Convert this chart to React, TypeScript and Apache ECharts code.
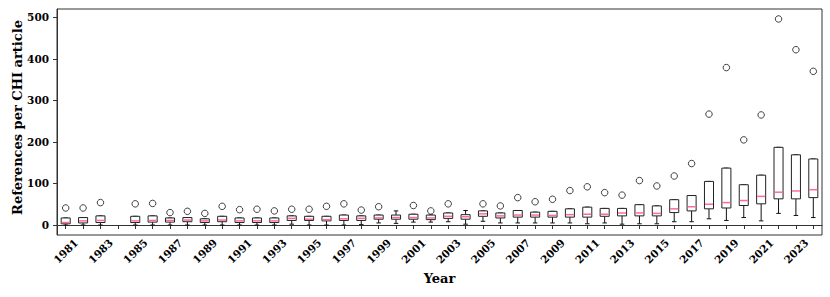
import React, { useEffect, useRef } from "react";
import * as echarts from "echarts";

const years = [
  "1981", "1982", "1983", "1984", "1985", "1986", "1987", "1988", "1989", "1990",
  "1991", "1992", "1993", "1994", "1995", "1996", "1997", "1998", "1999", "2000",
  "2001", "2002", "2003", "2004", "2005", "2006", "2007", "2008", "2009", "2010",
  "2011", "2012", "2013", "2014", "2015", "2016", "2017", "2018", "2019", "2020",
  "2021", "2022", "2023", "2024",
];
// null = no data for that year (1984)
const lows = [0, 0, 0, null, 0, 0, 0, 0, 0, 0, 0, 0, 0, 2, 0, 0, 0, 1, 5, 4, 7, 7, 8, 2, 9, 5, 5, 5, 5, 5, 3, 5, 2, 3, 3, 8, 8, 15, 11, 18, 10, 28, 23, 18];
const q1s = [3, 5, 6, null, 6, 7, 7, 8, 6, 8, 6, 6, 6, 11, 11, 10, 11, 11, 14, 14, 14, 13, 16, 14, 21, 17, 19, 19, 19, 19, 19, 21, 22, 22, 22, 30, 34, 39, 41, 47, 51, 63, 63, 66];
const medians = [6, 10, 11, null, 10, 11, 11, 12, 10, 12, 10, 10, 10, 16, 14, 13, 15, 16, 17, 18, 18, 17, 21, 20, 27, 22, 24, 24, 23, 25, 26, 26, 29, 29, 28, 39, 44, 50, 54, 59, 69, 79, 82, 85];
const q3s = [17, 18, 22, null, 21, 22, 17, 18, 15, 21, 17, 17, 17, 22, 21, 21, 24, 22, 24, 24, 26, 24, 29, 25, 34, 29, 35, 31, 33, 39, 43, 40, 40, 49, 46, 61, 71, 105, 137, 97, 120, 187, 169, 159];
const highs = [17, 18, 22, null, 21, 22, 17, 18, 15, 21, 17, 17, 17, 22, 21, 21, 24, 22, 24, 34, 26, 24, 29, 35, 34, 29, 35, 31, 33, 39, 43, 40, 40, 49, 46, 61, 71, 105, 137, 97, 120, 187, 169, 159];
const outliers = [41, 41, 54, null, 51, 52, 30, 33, 28, 45, 37, 38, 34, 38, 38, 45, 51, 36, 44, null, 47, 34, 51, null, 51, 46, 66, 56, 62, 83, 92, 78, 72, 107, 94, 118, 148, 267, 379, 205, 265, 496, 422, 370];
const yTicks = [0, 100, 200, 300, 400, 500];

const FONT = "DejaVu Serif";

export default function App() {
  const ref = useRef<HTMLDivElement>(null);

  useEffect(() => {
    if (!ref.current) return;
    const chart = echarts.init(ref.current, null, { renderer: "svg" });

    const boxData: number[][] = [];
    years.forEach((_, i) => {
      if (lows[i] === null) return;
      boxData.push([i, lows[i] as number, q1s[i] as number, medians[i] as number, q3s[i] as number, highs[i] as number]);
    });
    const outData: number[][] = [];
    years.forEach((_, i) => {
      if (outliers[i] === null) return;
      outData.push([i, outliers[i] as number]);
    });

    const renderItem = (params: any, api: any) => {
      const x = api.value(0);
      const pLow = api.coord([x, api.value(1)]);
      const pQ1 = api.coord([x, api.value(2)]);
      const pMed = api.coord([x, api.value(3)]);
      const pQ3 = api.coord([x, api.value(4)]);
      const pHigh = api.coord([x, api.value(5)]);
      const band = api.size([1, 0])[0];
      const bw = band * 0.52;
      const cw = bw * 0.5;
      const cx = pMed[0];
      const lineStyle = { stroke: "#111", lineWidth: 1 };
      const children: any[] = [
        { type: "line", shape: { x1: cx, y1: pQ1[1], x2: cx, y2: pLow[1] }, style: lineStyle },
        { type: "line", shape: { x1: cx - cw / 2, y1: pLow[1], x2: cx + cw / 2, y2: pLow[1] }, style: lineStyle },
        { type: "line", shape: { x1: cx, y1: pQ3[1], x2: cx, y2: pHigh[1] }, style: lineStyle },
        { type: "line", shape: { x1: cx - cw / 2, y1: pHigh[1], x2: cx + cw / 2, y2: pHigh[1] }, style: lineStyle },
        {
          type: "rect",
          shape: { x: cx - bw / 2, y: pQ3[1], width: bw, height: pQ1[1] - pQ3[1] },
          style: { fill: "#fff", stroke: "#222", lineWidth: 1 },
        },
        {
          type: "line",
          shape: { x1: cx - bw / 2 + 0.5, y1: pMed[1], x2: cx + bw / 2 - 0.5, y2: pMed[1] },
          style: { stroke: "#ff6b93", lineWidth: 1.5 },
        },
      ];
      return { type: "group", children };
    };

    chart.setOption({
      animation: false,
      grid: {
        left: 57,
        right: 8,
        top: 9,
        bottom: 62,
        show: true,
        borderColor: "#333",
        borderWidth: 1,
        backgroundColor: "transparent",
      },
      graphic: [
        {
          type: "text",
          x: 17,
          y: 117.5,
          rotation: Math.PI / 2,
          style: {
            text: "References per CHI article",
            fontFamily: FONT,
            fontWeight: "bold",
            fontSize: 13,
            fill: "#000",
            align: "center",
            verticalAlign: "middle",
          },
        },
      ],
      xAxis: {
        type: "category",
        data: years,
        boundaryGap: true,
        name: "Year",
        nameLocation: "middle",
        nameGap: 37,
        nameTextStyle: { fontFamily: FONT, fontWeight: "bold", fontSize: 13, color: "#000" },
        axisLine: { show: true, lineStyle: { color: "#333", width: 1 } },
        axisTick: { show: true, interval: 0, alignWithLabel: true, length: 4, lineStyle: { color: "#333" } },
        axisLabel: {
          interval: 1,
          rotate: 45,
          align: "center",
          verticalAlign: "middle",
          fontFamily: FONT,
          fontWeight: "bold",
          fontSize: 10.5,
          color: "#000",
          margin: 16,
        },
        splitLine: { show: false },
      },
      yAxis: {
        type: "value",
        min: -24,
        max: 520,
        axisLine: { show: true, lineStyle: { color: "#333", width: 1 } },
        axisTick: { show: true, length: 4, customValues: yTicks, lineStyle: { color: "#333" } },
        axisLabel: {
          customValues: yTicks,
          fontFamily: FONT,
          fontWeight: "bold",
          fontSize: 10.5,
          color: "#000",
          margin: 8,
        },
        splitLine: { show: false },
      },
      series: [
        {
          type: "custom",
          renderItem,
          data: boxData,
          encode: { x: 0, y: [1, 2, 3, 4, 5] },
          z: 2,
        },
        {
          type: "scatter",
          data: outData,
          symbol: "circle",
          symbolSize: 6.5,
          itemStyle: { color: "rgba(255,255,255,0)", borderColor: "#111", borderWidth: 1 },
          z: 3,
        },
      ],
    });

    return () => chart.dispose();
  }, []);

  return (
    <div
      ref={ref}
      style={{ position: "fixed", left: 0, top: 0, width: 830, height: 297, background: "#fff" }}
    />
  );
}
